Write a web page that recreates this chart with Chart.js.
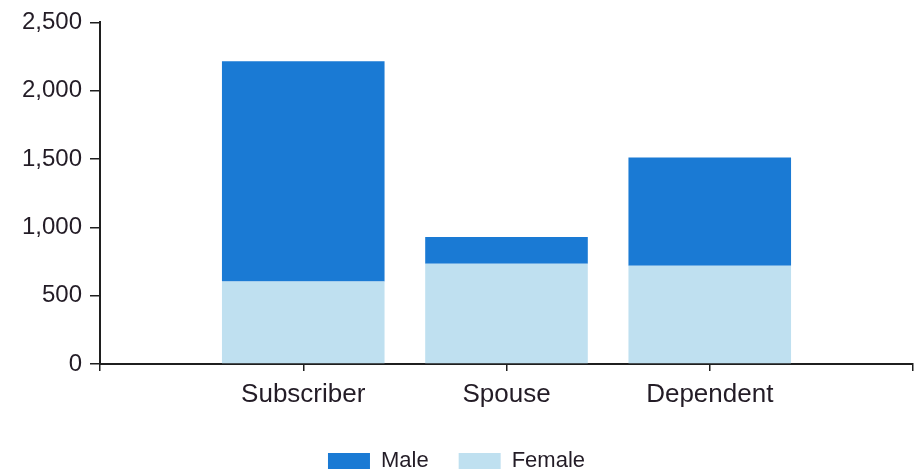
<!DOCTYPE html>
<html>
<head>
<meta charset="utf-8">
<script src="https://cdn.jsdelivr.net/npm/chart.js@4"></script>
<style>
  html, body { margin: 0; padding: 0; background: #ffffff; }
  #c { display: block; }
</style>
</head>
<body>
<canvas id="c" width="921" height="472"></canvas>
<script>
const categories = ['Subscriber', 'Spouse', 'Dependent'];
const femaleValues = [603, 734, 719];
const maleValues = [1613, 196, 792];
const yTicks = [0, 500, 1000, 1500, 2000, 2500];

// empty slot at each end so bars sit on the axis tick positions
const axisLabels = [''].concat(categories, ['']);
const pad = arr => [null].concat(arr, [null]);

const textColor = '#231c26';
const axisColor = '#1f1f1f';
const fontFamily = 'Liberation Sans, Arial, sans-serif';

new Chart(document.getElementById('c'), {
  type: 'bar',
  data: {
    labels: axisLabels,
    datasets: [
      { label: 'Female', data: pad(femaleValues), backgroundColor: '#bfe0f0', borderWidth: 0 },
      { label: 'Male', data: pad(maleValues), backgroundColor: '#1a7ad4', borderWidth: 0 }
    ]
  },
  options: {
    responsive: false,
    animation: false,
    devicePixelRatio: 1,
    layout: { padding: { top: 4, right: 8, left: 0, bottom: -10 } },
    datasets: { bar: { categoryPercentage: 1.0, barPercentage: 0.8 } },
    scales: {
      x: {
        type: 'category',
        stacked: true,
        offset: false,
        afterFit: s => { s.height = 56; },
        grid: { display: true, offset: false, drawOnChartArea: false, tickLength: 7, color: axisColor, lineWidth: 1.5 },
        border: { display: true, color: axisColor, width: 2 },
        ticks: { color: textColor, font: { family: fontFamily, size: 26 }, padding: 8, maxRotation: 0, autoSkip: false }
      },
      y: {
        stacked: true,
        min: yTicks[0],
        max: yTicks[yTicks.length - 1],
        afterBuildTicks: s => { s.ticks = yTicks.map(v => ({ value: v })); },
        afterFit: s => { s.width = 100; },
        grid: { display: true, drawOnChartArea: false, tickLength: 10, color: axisColor, lineWidth: 1.5 },
        border: { display: true, color: axisColor, width: 2 },
        ticks: {
          color: textColor,
          font: { family: fontFamily, size: 24 },
          padding: 8,
          callback: v => Number(v).toLocaleString('en-US')
        }
      }
    },
    plugins: {
      legend: {
        position: 'bottom',
        reverse: true,
        labels: {
          boxWidth: 42,
          boxHeight: 16,
          padding: 30,
          color: textColor,
          font: { family: fontFamily, size: 22 }
        }
      },
      tooltip: { enabled: false }
    }
  }
});
</script>
</body>
</html>
